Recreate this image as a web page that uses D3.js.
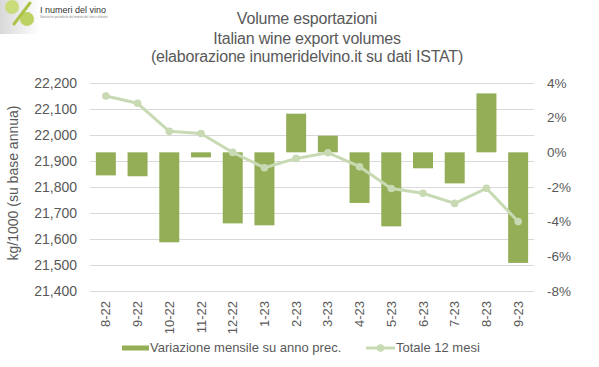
<!DOCTYPE html>
<html><head><meta charset="utf-8">
<script src="https://cdn.jsdelivr.net/npm/d3@7/dist/d3.min.js"></script>
<style>body{margin:0;background:#fff;} svg{display:block;font-family:"Liberation Sans",Arial,sans-serif;}</style>
</head><body>
<svg id="c" width="599" height="367"></svg>
<script>
const categories = ["8-22","9-22","10-22","11-22","12-22","1-23","2-23","3-23","4-23","5-23","6-23","7-23","8-23","9-23"];
const monthlyChange = [-1.33,-1.38,-5.19,-0.29,-4.10,-4.21,2.23,0.96,-2.92,-4.27,-0.92,-1.79,3.40,-6.38];
const total12 = [22150,22122,22014,22006,21933,21874,21910,21932,21878,21794,21776,21737,21795,21667];
const leftTicks = [21400,21500,21600,21700,21800,21900,22000,22100,22200];
const rightTicks = [-8,-6,-4,-2,0,2,4];
const titleLines = ["Volume esportazioni","Italian wine export volumes","(elaborazione inumeridelvino.it su dati ISTAT)"];
const yTitle = "kg/1000 (su base annua)";
const legendLabels = ["Variazione mensile su anno prec.","Totale 12 mesi"];

const svg = d3.select("#c");
const textCol = "#595959", gridCol = "#d9d9d9", barCol = "#93ae57", lineCol = "#c8dab4";

const x = d3.scaleBand().domain(categories).range([90,534]).paddingInner(0.37).paddingOuter(0.185);
const y = d3.scaleLinear().domain([21400,22200]).range([291,83]);
const y2 = d3.scaleLinear().domain([-8,4]).range([291,83]);

// logo
const defs = svg.append("defs");
const lg = defs.append("linearGradient").attr("id","lg").attr("x1","0").attr("x2","1");
lg.append("stop").attr("offset","0").attr("stop-color","#d8d8d8");
lg.append("stop").attr("offset","1").attr("stop-color","#ffffff");
svg.append("rect").attr("x",0).attr("y",0).attr("width",40).attr("height",34).attr("fill","url(#lg)");
svg.append("circle").attr("cx",12).attr("cy",7).attr("r",7).attr("fill","#c9dc7a");
svg.append("circle").attr("cx",27).attr("cy",19).attr("r",7).attr("fill","#bcd364");
svg.append("line").attr("x1",30).attr("y1",3).attr("x2",14).attr("y2",24).attr("stroke","#a9c447").attr("stroke-width",3).attr("stroke-linecap","round");
svg.append("text").attr("x",40).attr("y",13).attr("font-size",9).attr("fill","#333").text("I numeri del vino");
svg.append("text").attr("x",40).attr("y",17.5).attr("font-size",3).attr("fill","#888").text("Statistiche periodiche dal mondo del vino e dintorni");

// title
svg.append("g").selectAll("text").data(titleLines).join("text")
  .attr("x",307).attr("y",(d,i)=>[24,43.5,62][i]).attr("text-anchor","middle")
  .attr("font-size",16).attr("letter-spacing","-0.2px").attr("fill",textCol).text(d=>d);

// grid
svg.append("g").selectAll("line").data(leftTicks).join("line")
  .attr("x1",90).attr("x2",534).attr("y1",d=>y(d)).attr("y2",d=>y(d))
  .attr("stroke",gridCol).attr("stroke-width",1).attr("shape-rendering","crispEdges");

// left axis
const la = svg.append("g").attr("transform","translate(90,0)")
  .call(d3.axisLeft(y).tickValues(leftTicks).tickFormat(d3.format(",")).tickSize(0).tickPadding(13));
la.select(".domain").remove();
la.selectAll("text").attr("font-size",14).attr("fill",textCol).attr("font-family","Liberation Sans, Arial, sans-serif");

// right axis
const ra = svg.append("g").attr("transform","translate(534,0)")
  .call(d3.axisRight(y2).tickValues(rightTicks).tickFormat(d=>d+"%").tickSize(0).tickPadding(13));
ra.select(".domain").remove();
ra.selectAll("text").attr("font-size",13.5).attr("fill",textCol).attr("font-family","Liberation Sans, Arial, sans-serif");

// bars
svg.append("g").selectAll("rect").data(categories).join("rect")
  .attr("x",d=>x(d)).attr("width",x.bandwidth())
  .attr("y",(d,i)=>y2(Math.max(0,monthlyChange[i])))
  .attr("height",(d,i)=>Math.abs(y2(monthlyChange[i])-y2(0)))
  .attr("fill",barCol);

// line
const pts = categories.map((c,i)=>[x(c)+x.bandwidth()/2, y(total12[i])]);
svg.append("path").attr("d",d3.line()(pts)).attr("fill","none").attr("stroke",lineCol).attr("stroke-width",3).attr("stroke-linejoin","round");
svg.append("g").selectAll("circle").data(pts).join("circle")
  .attr("cx",d=>d[0]).attr("cy",d=>d[1]).attr("r",3.8).attr("fill",lineCol);

// x labels
svg.append("g").selectAll("text").data(categories).join("text")
  .attr("transform",d=>`translate(${x(d)+x.bandwidth()/2},301) rotate(-90)`)
  .attr("text-anchor","end").attr("dy","0.35em").attr("font-size",13).attr("fill",textCol).text(d=>d);

// y title
svg.append("text").attr("transform","translate(18,183) rotate(-90)").attr("text-anchor","middle")
  .attr("font-size",14).attr("fill",textCol).text(yTitle);

// legend
svg.append("rect").attr("x",122).attr("y",345.5).attr("width",27).attr("height",5).attr("fill",barCol);
svg.append("text").attr("x",150).attr("y",352).attr("font-size",13).attr("fill",textCol).text(legendLabels[0]);
svg.append("line").attr("x1",366).attr("x2",395).attr("y1",348).attr("y2",348).attr("stroke",lineCol).attr("stroke-width",3);
svg.append("circle").attr("cx",380.5).attr("cy",348).attr("r",3.8).attr("fill",lineCol);
svg.append("text").attr("x",396).attr("y",352).attr("font-size",13).attr("fill",textCol).text(legendLabels[1]);
</script>
</body></html>
